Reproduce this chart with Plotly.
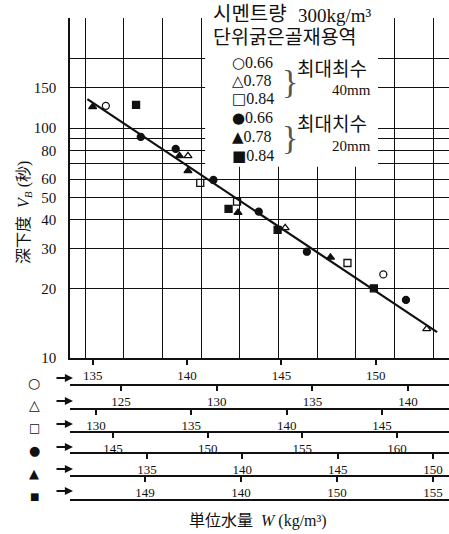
import math
import plotly.graph_objects as go

# ---------------- data ----------------
# unit water content W (kg/m3) on the main (circle) scale, and V_B (s)
w_40_066 = [135.7, 150.4]
vb_40_066 = [125, 23.1]
w_40_078 = [140.05, 145.2, 152.7]
vb_40_078 = [75.7, 36.8, 13.4]
w_40_084 = [140.7, 142.65, 148.5]
vb_40_084 = [57.8, 47.9, 25.9]
w_20_066 = [137.55, 139.4, 141.4, 143.8, 146.35, 151.6]
vb_20_066 = [91.6, 81.2, 59.5, 43.3, 29.0, 17.9]
w_20_078 = [135.0, 139.6, 140.05, 142.7, 147.6]
vb_20_078 = [123.8, 75.7, 65.2, 42.9, 27.4]
w_20_084 = [137.3, 142.2, 144.8, 149.9]
vb_20_084 = [126.3, 44.5, 36.1, 20.1]
fit_w = [134.72, 153.25]
fit_vb = [133.8, 12.95]

# y ticks
y_grid = [10, 20, 30, 40, 50, 60, 70, 80, 90, 100, 150, 200, 300]
y_labels = ["10", "20", "30", "40", "50", "60", "", "80", "", "100", "150", "", ""]

# bottom scales
main_ticks = [135, 140, 145, 150]
main_range = [133.80, 153.88]
tri_ticks = [125, 130, 135, 140]
tri_range = [122.33, 142.14]
sq_ticks = [130, 135, 140, 145]
sq_range = [128.64, 148.51]
dot_ticks = [145, 150, 155, 160]
dot_range = [142.73, 162.75]
ftri_ticks = [135, 140, 145, 150]
ftri_range = [130.96, 150.84]
fsq_ticks = [135, 140, 145, 150]
fsq_labels = ["149", "140", "150", "155"]
fsq_range = [131.09, 150.83]

# ---------------- layout helpers ----------------
W, H = 449, 534
ML, MR, MT, MB = 70, 0, 18, 34
PW = W - ML - MR
PH = H - MT - MB


def px(x):
    return (x - ML) / PW


def py(y):
    return (H - MB - y) / PH


SERIF = "Liberation Serif, Noto Sans CJK KR"
KR = "Liberation Serif, Noto Sans CJK KR"
JP = "Liberation Serif, Noto Sans CJK JP"
SYM = "DejaVu Sans"
BLACK = "#111"

fig = go.Figure()

mk = dict(size=7, color=BLACK, line=dict(color=BLACK, width=1.3))
series = [
    (w_40_066, vb_40_066, "circle-open"),
    (w_40_078, vb_40_078, "triangle-up-open"),
    (w_40_084, vb_40_084, "square-open"),
    (w_20_066, vb_20_066, "circle"),
    (w_20_078, vb_20_078, "triangle-up"),
    (w_20_084, vb_20_084, "square"),
]
fig.add_trace(go.Scatter(x=fit_w, y=fit_vb, mode="lines",
                         line=dict(color=BLACK, width=2.2), hoverinfo="skip"))
for xs, ys, sym in series:
    fig.add_trace(go.Scatter(x=xs, y=ys, mode="markers",
                             marker=dict(symbol=sym, **mk)))

# dummy traces so that every extra axis is drawn
for ax in ["x2", "x3", "x4", "x5", "x6", "x7", "x8"]:
    fig.add_trace(go.Scatter(x=[], y=[], xaxis=ax, yaxis="y", hoverinfo="skip"))

ydom0 = py(358)
ytop = math.log10(300) + 0.002

axis_common = dict(showgrid=False, zeroline=False, showline=True, linecolor=BLACK,
                   linewidth=1.5, ticks="outside", ticklen=5, tickcolor=BLACK,
                   tickwidth=1.5, tickfont=dict(family=SERIF, size=13, color=BLACK))

layout = dict(
    width=W, height=H,
    margin=dict(l=ML, r=MR, t=MT, b=MB),
    paper_bgcolor="white", plot_bgcolor="white",
    showlegend=False,
    xaxis=dict(domain=[0, 1], range=main_range, anchor="y",
               tickmode="array", tickvals=main_ticks, **axis_common),
    xaxis8=dict(overlaying="x", anchor="y", range=main_range, tickmode="linear",
                tick0=134.6, dtick=2.05, showgrid=True, gridcolor=BLACK, gridwidth=1,
                showticklabels=False, ticks="", showline=False, zeroline=False),
    yaxis=dict(type="log", domain=[ydom0, 1], range=[1, ytop], anchor="x",
               tickmode="array", tickvals=y_grid, ticktext=y_labels,
               showgrid=True, gridcolor=BLACK, gridwidth=1, showline=True,
               linecolor=BLACK, linewidth=1.5, ticks="", zeroline=False,
               ticklabelstandoff=9,
               tickfont=dict(family=SERIF, size=15, color=BLACK)),
)

extra = [
    ("xaxis2", tri_range, tri_ticks, None, py(385)),
    ("xaxis3", sq_range, sq_ticks, None, py(409)),
    ("xaxis4", dot_range, dot_ticks, None, py(432)),
    ("xaxis5", ftri_range, ftri_ticks, None, py(453)),
    ("xaxis6", fsq_range, fsq_ticks, fsq_labels, py(476)),
]
for name, rng, tv, tt, pos in extra:
    d = dict(overlaying="x", anchor="free", position=pos, side="bottom",
             range=rng, tickmode="array", tickvals=tv, **axis_common)
    if tt is not None:
        d["ticktext"] = tt
    layout[name] = d
layout["xaxis7"] = dict(overlaying="x", anchor="free", position=0.0, side="bottom",
                        range=main_range, showgrid=False, zeroline=False, showline=True,
                        linecolor=BLACK, linewidth=1.5, ticks="", showticklabels=False)
fig.update_layout(**layout)

# white legend box over the grid
fig.add_shape(type="rect", xref="x", yref="y domain",
              x0=140.96, x1=150.12,
              y0=(math.log10(68) - 1) / (ytop - 1), y1=1.06,
              fillcolor="white", line=dict(width=0), layer="above")

ann = []


def text(x, y, s, size, family=SERIF, xanchor="left", angle=0, color=BLACK):
    ann.append(dict(x=px(x), y=py(y), xref="paper", yref="paper", text=s,
                    showarrow=False, xanchor=xanchor, yanchor="middle",
                    textangle=angle, font=dict(family=family, size=size, color=color)))


text(211, 14, "시멘트량", 20, KR)
text(374, 15, "300kg/m³", 19, SERIF, xanchor="right")
text(211, 38, "단위굵은골재용역", 19.5, KR)
legend_rows = [("○", "0.66", 63), ("△", "0.78", 81), ("□", "0.84", 99),
               ("●", "0.66", 118), ("▲", "0.78", 137), ("■", "0.84", 156)]
for s, v, y in legend_rows:
    text(230, y, f"<span style='font-family:DejaVu Sans;font-size:15px'>{s}</span>{v}", 16, SERIF)
text(280, 81, "}", 34, SERIF, color="#555")
text(280, 137, "}", 34, SERIF, color="#555")
text(295, 70, "최대최수", 19, KR)
text(373, 90, "40mm", 15, SERIF, xanchor="right")
text(295, 124, "최대치수", 19, KR)
text(373, 146, "20mm", 15, SERIF, xanchor="right")

# axis titles
text(24, 213, "深下度  <i>V<sub>B</sub></i> (秒)", 16, JP, xanchor="center", angle=-90)
text(258, 521, "単位水量  <i>W</i> (kg/m³)", 16, JP, xanchor="center")

# scale symbols and arrows at the left
sym_rows = [("○", 383, 14), ("△", 405, 14), ("□", 428, 12), ("●", 450, 13),
            ("▲", 473, 13), ("■", 496, 10)]
for s, y, sz in sym_rows:
    text(34, y, s, sz, SYM, xanchor="center")
for y in [378, 401, 424, 447, 469, 491]:
    ann.append(dict(x=px(73), y=py(y), xref="paper", yref="paper", text="",
                    showarrow=True, ax=-18, ay=0, arrowhead=2, arrowsize=0.9,
                    arrowwidth=1.8, arrowcolor=BLACK))

fig.update_layout(annotations=ann)
fig.write_html("out.html")
